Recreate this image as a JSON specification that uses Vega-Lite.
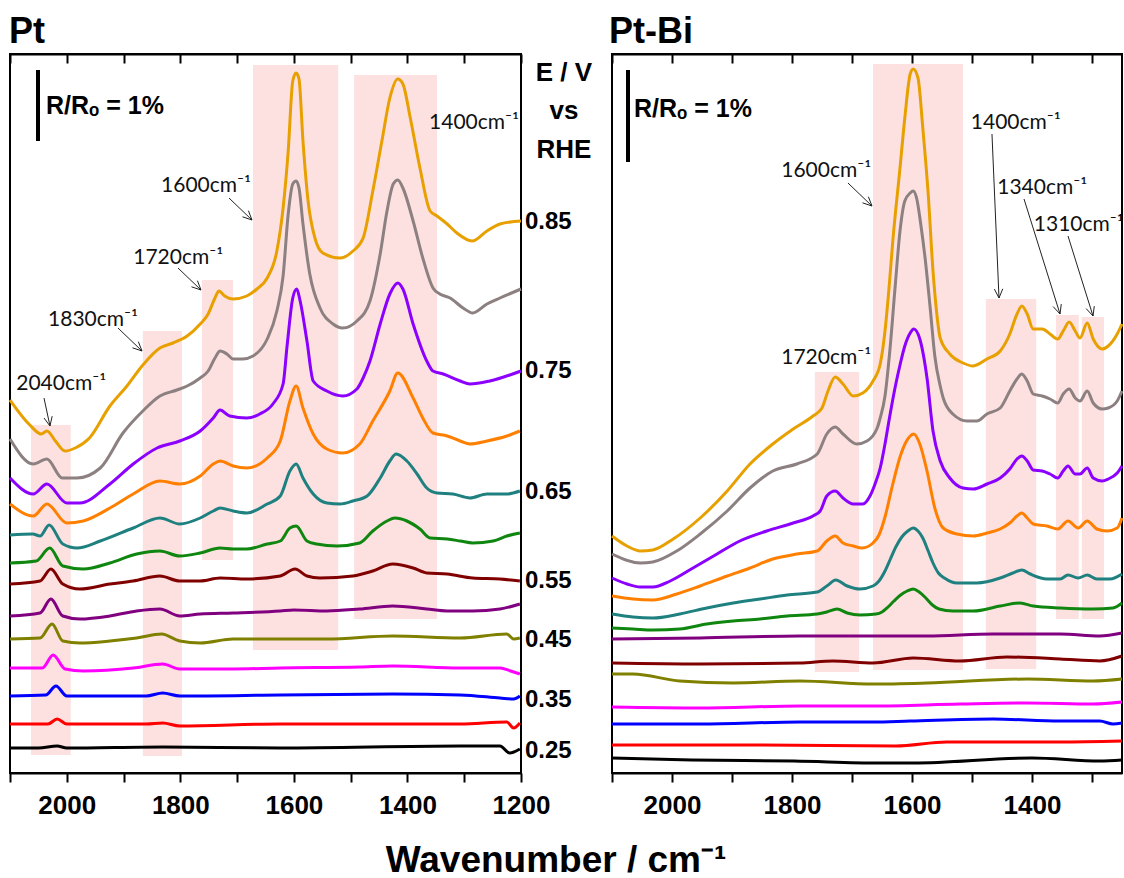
{
"$schema": "https://vega.github.io/schema/vega-lite/v6.json",
"padding": {"left": 3, "top": 13, "right": 0, "bottom": 0},
"bounds": "flush",
"spacing": 91,
"background": "white",
"config": {
  "view": {"stroke": "#000", "strokeWidth": 2},
  "axis": {"grid": false, "domainColor": "#000", "domainWidth": 2, "tickColor": "#000", "tickWidth": 2, "labelColor": "#000", "labelFont": "Liberation Sans", "labelFontWeight": "bold", "labelFontSize": 26}
},
"datasets": {
"pt": [
{"e":"0.85","x":2100,"y":373},{"e":"0.85","x":2065,"y":348},{"e":"0.85","x":2045,"y":339},{"e":"0.85","x":2035,"y":342},{"e":"0.85","x":2020,"y":332},{"e":"0.85","x":2003,"y":322},{"e":"0.85","x":1985,"y":325},{"e":"0.85","x":1960,"y":335},{"e":"0.85","x":1924,"y":367},{"e":"0.85","x":1894,"y":387},{"e":"0.85","x":1866,"y":408},{"e":"0.85","x":1836,"y":425},{"e":"0.85","x":1813,"y":430},{"e":"0.85","x":1788,"y":437},{"e":"0.85","x":1765,"y":449},{"e":"0.85","x":1751,"y":459},{"e":"0.85","x":1739,"y":475},{"e":"0.85","x":1732,"y":482},{"e":"0.85","x":1722,"y":477},{"e":"0.85","x":1707,"y":474},{"e":"0.85","x":1683,"y":477},{"e":"0.85","x":1665,"y":484},{"e":"0.85","x":1647,"y":495},{"e":"0.85","x":1630,"y":522},{"e":"0.85","x":1619,"y":565},{"e":"0.85","x":1610,"y":622},{"e":"0.85","x":1602,"y":692},{"e":"0.85","x":1596,"y":700},{"e":"0.85","x":1591,"y":694},{"e":"0.85","x":1584,"y":632},{"e":"0.85","x":1575,"y":572},{"e":"0.85","x":1563,"y":535},{"e":"0.85","x":1549,"y":520},{"e":"0.85","x":1519,"y":515},{"e":"0.85","x":1496,"y":522},{"e":"0.85","x":1478,"y":535},{"e":"0.85","x":1461,"y":582},{"e":"0.85","x":1445,"y":632},{"e":"0.85","x":1431,"y":675},{"e":"0.85","x":1417,"y":694},{"e":"0.85","x":1408,"y":689},{"e":"0.85","x":1395,"y":655},{"e":"0.85","x":1378,"y":605},{"e":"0.85","x":1360,"y":562},{"e":"0.85","x":1348,"y":557},{"e":"0.85","x":1330,"y":549},{"e":"0.85","x":1313,"y":540},{"e":"0.85","x":1286,"y":532},{"e":"0.85","x":1260,"y":542},{"e":"0.85","x":1237,"y":549},{"e":"0.85","x":1200,"y":552},
{"e":"0.80","x":2100,"y":334},{"e":"0.80","x":2059,"y":309},{"e":"0.80","x":2035,"y":314},{"e":"0.80","x":2008,"y":295},{"e":"0.80","x":1982,"y":295},{"e":"0.80","x":1941,"y":305},{"e":"0.80","x":1901,"y":340},{"e":"0.80","x":1866,"y":362},{"e":"0.80","x":1836,"y":377},{"e":"0.80","x":1806,"y":383},{"e":"0.80","x":1788,"y":387},{"e":"0.80","x":1765,"y":395},{"e":"0.80","x":1751,"y":402},{"e":"0.80","x":1739,"y":415},{"e":"0.80","x":1730,"y":422},{"e":"0.80","x":1718,"y":419},{"e":"0.80","x":1707,"y":414},{"e":"0.80","x":1690,"y":414},{"e":"0.80","x":1672,"y":417},{"e":"0.80","x":1647,"y":434},{"e":"0.80","x":1630,"y":462},{"e":"0.80","x":1619,"y":497},{"e":"0.80","x":1610,"y":559},{"e":"0.80","x":1602,"y":589},{"e":"0.80","x":1596,"y":592},{"e":"0.80","x":1591,"y":585},{"e":"0.80","x":1584,"y":549},{"e":"0.80","x":1572,"y":499},{"e":"0.80","x":1554,"y":465},{"e":"0.80","x":1531,"y":449},{"e":"0.80","x":1514,"y":445},{"e":"0.80","x":1489,"y":452},{"e":"0.80","x":1466,"y":472},{"e":"0.80","x":1448,"y":519},{"e":"0.80","x":1436,"y":562},{"e":"0.80","x":1425,"y":589},{"e":"0.80","x":1417,"y":593},{"e":"0.80","x":1408,"y":585},{"e":"0.80","x":1390,"y":552},{"e":"0.80","x":1373,"y":515},{"e":"0.80","x":1355,"y":485},{"e":"0.80","x":1343,"y":479},{"e":"0.80","x":1325,"y":475},{"e":"0.80","x":1302,"y":465},{"e":"0.80","x":1285,"y":460},{"e":"0.80","x":1260,"y":469},{"e":"0.80","x":1237,"y":475},{"e":"0.80","x":1200,"y":484},
{"e":"0.75","x":2100,"y":295},{"e":"0.75","x":2059,"y":279},{"e":"0.75","x":2035,"y":289},{"e":"0.75","x":2000,"y":270},{"e":"0.75","x":1977,"y":270},{"e":"0.75","x":1924,"y":289},{"e":"0.75","x":1883,"y":309},{"e":"0.75","x":1841,"y":325},{"e":"0.75","x":1801,"y":332},{"e":"0.75","x":1765,"y":342},{"e":"0.75","x":1742,"y":355},{"e":"0.75","x":1730,"y":363},{"e":"0.75","x":1713,"y":357},{"e":"0.75","x":1683,"y":355},{"e":"0.75","x":1660,"y":359},{"e":"0.75","x":1637,"y":369},{"e":"0.75","x":1619,"y":389},{"e":"0.75","x":1612,"y":427},{"e":"0.75","x":1602,"y":475},{"e":"0.75","x":1595,"y":484},{"e":"0.75","x":1589,"y":472},{"e":"0.75","x":1577,"y":432},{"e":"0.75","x":1566,"y":392},{"e":"0.75","x":1542,"y":382},{"e":"0.75","x":1514,"y":377},{"e":"0.75","x":1489,"y":384},{"e":"0.75","x":1478,"y":395},{"e":"0.75","x":1466,"y":412},{"e":"0.75","x":1448,"y":449},{"e":"0.75","x":1431,"y":479},{"e":"0.75","x":1417,"y":490},{"e":"0.75","x":1408,"y":484},{"e":"0.75","x":1390,"y":449},{"e":"0.75","x":1366,"y":412},{"e":"0.75","x":1355,"y":402},{"e":"0.75","x":1337,"y":399},{"e":"0.75","x":1307,"y":392},{"e":"0.75","x":1290,"y":389},{"e":"0.75","x":1255,"y":392},{"e":"0.75","x":1200,"y":402},
{"e":"0.70","x":2100,"y":269},{"e":"0.70","x":2059,"y":257},{"e":"0.70","x":2035,"y":269},{"e":"0.70","x":2000,"y":250},{"e":"0.70","x":1971,"y":252},{"e":"0.70","x":1924,"y":265},{"e":"0.70","x":1883,"y":279},{"e":"0.70","x":1836,"y":292},{"e":"0.70","x":1801,"y":289},{"e":"0.70","x":1765,"y":297},{"e":"0.70","x":1742,"y":309},{"e":"0.70","x":1730,"y":312},{"e":"0.70","x":1707,"y":307},{"e":"0.70","x":1683,"y":305},{"e":"0.70","x":1647,"y":315},{"e":"0.70","x":1624,"y":332},{"e":"0.70","x":1607,"y":372},{"e":"0.70","x":1596,"y":387},{"e":"0.70","x":1584,"y":365},{"e":"0.70","x":1566,"y":339},{"e":"0.70","x":1542,"y":324},{"e":"0.70","x":1514,"y":320},{"e":"0.70","x":1484,"y":329},{"e":"0.70","x":1461,"y":352},{"e":"0.70","x":1431,"y":382},{"e":"0.70","x":1417,"y":400},{"e":"0.70","x":1390,"y":375},{"e":"0.70","x":1373,"y":355},{"e":"0.70","x":1355,"y":340},{"e":"0.70","x":1330,"y":337},{"e":"0.70","x":1307,"y":332},{"e":"0.70","x":1290,"y":329},{"e":"0.70","x":1260,"y":332},{"e":"0.70","x":1225,"y":337},{"e":"0.70","x":1202,"y":342},
{"e":"0.65","x":2100,"y":238},{"e":"0.65","x":2060,"y":239},{"e":"0.65","x":2047,"y":237},{"e":"0.65","x":2031,"y":248},{"e":"0.65","x":2007,"y":229},{"e":"0.65","x":1982,"y":225},{"e":"0.65","x":1941,"y":232},{"e":"0.65","x":1883,"y":245},{"e":"0.65","x":1836,"y":255},{"e":"0.65","x":1801,"y":249},{"e":"0.65","x":1765,"y":255},{"e":"0.65","x":1742,"y":262},{"e":"0.65","x":1730,"y":265},{"e":"0.65","x":1707,"y":262},{"e":"0.65","x":1683,"y":260},{"e":"0.65","x":1647,"y":269},{"e":"0.65","x":1624,"y":277},{"e":"0.65","x":1607,"y":302},{"e":"0.65","x":1596,"y":309},{"e":"0.65","x":1584,"y":295},{"e":"0.65","x":1566,"y":279},{"e":"0.65","x":1542,"y":270},{"e":"0.65","x":1519,"y":269},{"e":"0.65","x":1496,"y":272},{"e":"0.65","x":1471,"y":277},{"e":"0.65","x":1448,"y":295},{"e":"0.65","x":1431,"y":312},{"e":"0.65","x":1420,"y":319},{"e":"0.65","x":1401,"y":312},{"e":"0.65","x":1383,"y":299},{"e":"0.65","x":1366,"y":285},{"e":"0.65","x":1348,"y":280},{"e":"0.65","x":1320,"y":279},{"e":"0.65","x":1290,"y":275},{"e":"0.65","x":1260,"y":279},{"e":"0.65","x":1225,"y":279},{"e":"0.65","x":1202,"y":282},
{"e":"0.60","x":2100,"y":210},{"e":"0.60","x":2054,"y":212},{"e":"0.60","x":2030,"y":225},{"e":"0.60","x":2007,"y":207},{"e":"0.60","x":1971,"y":204},{"e":"0.60","x":1924,"y":210},{"e":"0.60","x":1877,"y":219},{"e":"0.60","x":1836,"y":222},{"e":"0.60","x":1801,"y":217},{"e":"0.60","x":1765,"y":220},{"e":"0.60","x":1730,"y":225},{"e":"0.60","x":1707,"y":224},{"e":"0.60","x":1683,"y":224},{"e":"0.60","x":1647,"y":229},{"e":"0.60","x":1624,"y":232},{"e":"0.60","x":1607,"y":245},{"e":"0.60","x":1596,"y":247},{"e":"0.60","x":1577,"y":232},{"e":"0.60","x":1560,"y":229},{"e":"0.60","x":1524,"y":227},{"e":"0.60","x":1484,"y":230},{"e":"0.60","x":1461,"y":242},{"e":"0.60","x":1436,"y":252},{"e":"0.60","x":1422,"y":255},{"e":"0.60","x":1401,"y":252},{"e":"0.60","x":1378,"y":244},{"e":"0.60","x":1360,"y":235},{"e":"0.60","x":1330,"y":234},{"e":"0.60","x":1307,"y":232},{"e":"0.60","x":1285,"y":230},{"e":"0.60","x":1249,"y":232},{"e":"0.60","x":1225,"y":237},{"e":"0.60","x":1202,"y":240},
{"e":"0.55","x":2100,"y":189},{"e":"0.55","x":2047,"y":192},{"e":"0.55","x":2028,"y":204},{"e":"0.55","x":2007,"y":189},{"e":"0.55","x":1977,"y":184},{"e":"0.55","x":1924,"y":189},{"e":"0.55","x":1883,"y":192},{"e":"0.55","x":1836,"y":197},{"e":"0.55","x":1801,"y":192},{"e":"0.55","x":1765,"y":192},{"e":"0.55","x":1730,"y":195},{"e":"0.55","x":1683,"y":194},{"e":"0.55","x":1624,"y":197},{"e":"0.55","x":1598,"y":204},{"e":"0.55","x":1577,"y":197},{"e":"0.55","x":1554,"y":195},{"e":"0.55","x":1496,"y":197},{"e":"0.55","x":1461,"y":202},{"e":"0.55","x":1426,"y":209},{"e":"0.55","x":1390,"y":205},{"e":"0.55","x":1366,"y":200},{"e":"0.55","x":1330,"y":199},{"e":"0.55","x":1285,"y":195},{"e":"0.55","x":1237,"y":194},{"e":"0.55","x":1202,"y":192},
{"e":"0.50","x":2100,"y":157},{"e":"0.50","x":2047,"y":160},{"e":"0.50","x":2028,"y":174},{"e":"0.50","x":2007,"y":157},{"e":"0.50","x":1977,"y":154},{"e":"0.50","x":1924,"y":157},{"e":"0.50","x":1877,"y":162},{"e":"0.50","x":1836,"y":164},{"e":"0.50","x":1801,"y":157},{"e":"0.50","x":1765,"y":159},{"e":"0.50","x":1707,"y":160},{"e":"0.50","x":1624,"y":162},{"e":"0.50","x":1600,"y":163},{"e":"0.50","x":1542,"y":162},{"e":"0.50","x":1484,"y":164},{"e":"0.50","x":1426,"y":167},{"e":"0.50","x":1366,"y":164},{"e":"0.50","x":1330,"y":162},{"e":"0.50","x":1285,"y":162},{"e":"0.50","x":1237,"y":164},{"e":"0.50","x":1202,"y":169},
{"e":"0.45","x":2100,"y":134},{"e":"0.45","x":2047,"y":135},{"e":"0.45","x":2026,"y":149},{"e":"0.45","x":2007,"y":132},{"e":"0.45","x":1977,"y":130},{"e":"0.45","x":1924,"y":132},{"e":"0.45","x":1877,"y":135},{"e":"0.45","x":1833,"y":139},{"e":"0.45","x":1801,"y":132},{"e":"0.45","x":1765,"y":130},{"e":"0.45","x":1707,"y":134},{"e":"0.45","x":1624,"y":134},{"e":"0.45","x":1542,"y":134},{"e":"0.45","x":1426,"y":137},{"e":"0.45","x":1307,"y":135},{"e":"0.45","x":1225,"y":139},{"e":"0.45","x":1213,"y":134},{"e":"0.45","x":1202,"y":135},
{"e":"0.40","x":2100,"y":105},{"e":"0.40","x":2043,"y":105},{"e":"0.40","x":2024,"y":118},{"e":"0.40","x":2003,"y":104},{"e":"0.40","x":1971,"y":102},{"e":"0.40","x":1883,"y":105},{"e":"0.40","x":1831,"y":109},{"e":"0.40","x":1801,"y":104},{"e":"0.40","x":1707,"y":104},{"e":"0.40","x":1624,"y":105},{"e":"0.40","x":1484,"y":106},{"e":"0.40","x":1426,"y":107},{"e":"0.40","x":1307,"y":105},{"e":"0.40","x":1237,"y":105},{"e":"0.40","x":1218,"y":102},{"e":"0.40","x":1202,"y":99},
{"e":"0.35","x":2100,"y":77},{"e":"0.35","x":2037,"y":78},{"e":"0.35","x":2019,"y":87},{"e":"0.35","x":2000,"y":77},{"e":"0.35","x":1941,"y":77},{"e":"0.35","x":1860,"y":77},{"e":"0.35","x":1831,"y":80},{"e":"0.35","x":1801,"y":77},{"e":"0.35","x":1624,"y":78},{"e":"0.35","x":1426,"y":79},{"e":"0.35","x":1307,"y":78},{"e":"0.35","x":1237,"y":75},{"e":"0.35","x":1213,"y":74},{"e":"0.35","x":1202,"y":77},
{"e":"0.30","x":2100,"y":49},{"e":"0.30","x":2033,"y":49},{"e":"0.30","x":2017,"y":54},{"e":"0.30","x":2000,"y":49},{"e":"0.30","x":1860,"y":49},{"e":"0.30","x":1831,"y":50},{"e":"0.30","x":1801,"y":47},{"e":"0.30","x":1624,"y":49},{"e":"0.30","x":1307,"y":49},{"e":"0.30","x":1225,"y":51},{"e":"0.30","x":1213,"y":45},{"e":"0.30","x":1202,"y":50},
{"e":"0.25","x":2100,"y":25},{"e":"0.25","x":2050,"y":25},{"e":"0.25","x":2017,"y":27},{"e":"0.25","x":2000,"y":25},{"e":"0.25","x":1831,"y":26},{"e":"0.25","x":1624,"y":25},{"e":"0.25","x":1307,"y":27},{"e":"0.25","x":1237,"y":27},{"e":"0.25","x":1220,"y":20},{"e":"0.25","x":1202,"y":24}
],
"bi": [
{"e":"0.85","x":2100,"y":237},{"e":"0.85","x":2075,"y":227},{"e":"0.85","x":2053,"y":222},{"e":"0.85","x":2032,"y":223},{"e":"0.85","x":1998,"y":234},{"e":"0.85","x":1953,"y":255},{"e":"0.85","x":1908,"y":282},{"e":"0.85","x":1870,"y":309},{"e":"0.85","x":1832,"y":329},{"e":"0.85","x":1798,"y":344},{"e":"0.85","x":1765,"y":357},{"e":"0.85","x":1750,"y":365},{"e":"0.85","x":1740,"y":382},{"e":"0.85","x":1728,"y":396},{"e":"0.85","x":1715,"y":389},{"e":"0.85","x":1698,"y":377},{"e":"0.85","x":1682,"y":380},{"e":"0.85","x":1665,"y":392},{"e":"0.85","x":1653,"y":409},{"e":"0.85","x":1645,"y":442},{"e":"0.85","x":1638,"y":487},{"e":"0.85","x":1632,"y":532},{"e":"0.85","x":1620,"y":605},{"e":"0.85","x":1612,"y":655},{"e":"0.85","x":1603,"y":699},{"e":"0.85","x":1598,"y":704},{"e":"0.85","x":1590,"y":695},{"e":"0.85","x":1582,"y":645},{"e":"0.85","x":1573,"y":579},{"e":"0.85","x":1565,"y":502},{"e":"0.85","x":1560,"y":467},{"e":"0.85","x":1553,"y":435},{"e":"0.85","x":1537,"y":419},{"e":"0.85","x":1515,"y":410},{"e":"0.85","x":1498,"y":407},{"e":"0.85","x":1475,"y":414},{"e":"0.85","x":1453,"y":422},{"e":"0.85","x":1437,"y":439},{"e":"0.85","x":1425,"y":459},{"e":"0.85","x":1417,"y":467},{"e":"0.85","x":1408,"y":459},{"e":"0.85","x":1398,"y":444},{"e":"0.85","x":1383,"y":444},{"e":"0.85","x":1370,"y":439},{"e":"0.85","x":1357,"y":434},{"e":"0.85","x":1348,"y":442},{"e":"0.85","x":1338,"y":451},{"e":"0.85","x":1328,"y":442},{"e":"0.85","x":1320,"y":435},{"e":"0.85","x":1308,"y":450},{"e":"0.85","x":1298,"y":434},{"e":"0.85","x":1283,"y":424},{"e":"0.85","x":1273,"y":427},{"e":"0.85","x":1258,"y":439},{"e":"0.85","x":1250,"y":449},
{"e":"0.80","x":2100,"y":219},{"e":"0.80","x":2053,"y":210},{"e":"0.80","x":2032,"y":211},{"e":"0.80","x":1992,"y":222},{"e":"0.80","x":1953,"y":239},{"e":"0.80","x":1908,"y":262},{"e":"0.80","x":1870,"y":285},{"e":"0.80","x":1832,"y":302},{"e":"0.80","x":1792,"y":309},{"e":"0.80","x":1758,"y":319},{"e":"0.80","x":1742,"y":339},{"e":"0.80","x":1728,"y":346},{"e":"0.80","x":1715,"y":339},{"e":"0.80","x":1692,"y":329},{"e":"0.80","x":1675,"y":332},{"e":"0.80","x":1658,"y":345},{"e":"0.80","x":1653,"y":355},{"e":"0.80","x":1645,"y":377},{"e":"0.80","x":1637,"y":422},{"e":"0.80","x":1628,"y":487},{"e":"0.80","x":1620,"y":542},{"e":"0.80","x":1612,"y":572},{"e":"0.80","x":1603,"y":580},{"e":"0.80","x":1598,"y":582},{"e":"0.80","x":1592,"y":574},{"e":"0.80","x":1585,"y":547},{"e":"0.80","x":1578,"y":514},{"e":"0.80","x":1570,"y":467},{"e":"0.80","x":1562,"y":417},{"e":"0.80","x":1553,"y":387},{"e":"0.80","x":1548,"y":375},{"e":"0.80","x":1532,"y":359},{"e":"0.80","x":1508,"y":352},{"e":"0.80","x":1492,"y":352},{"e":"0.80","x":1475,"y":359},{"e":"0.80","x":1453,"y":365},{"e":"0.80","x":1437,"y":382},{"e":"0.80","x":1425,"y":394},{"e":"0.80","x":1417,"y":399},{"e":"0.80","x":1408,"y":392},{"e":"0.80","x":1398,"y":379},{"e":"0.80","x":1383,"y":377},{"e":"0.80","x":1370,"y":374},{"e":"0.80","x":1357,"y":370},{"e":"0.80","x":1348,"y":379},{"e":"0.80","x":1338,"y":384},{"e":"0.80","x":1328,"y":375},{"e":"0.80","x":1320,"y":372},{"e":"0.80","x":1308,"y":382},{"e":"0.80","x":1298,"y":370},{"e":"0.80","x":1283,"y":364},{"e":"0.80","x":1273,"y":365},{"e":"0.80","x":1258,"y":372},{"e":"0.80","x":1250,"y":382},
{"e":"0.75","x":2100,"y":195},{"e":"0.75","x":2075,"y":189},{"e":"0.75","x":2053,"y":186},{"e":"0.75","x":2032,"y":186},{"e":"0.75","x":2003,"y":192},{"e":"0.75","x":1965,"y":205},{"e":"0.75","x":1925,"y":219},{"e":"0.75","x":1887,"y":232},{"e":"0.75","x":1842,"y":242},{"e":"0.75","x":1798,"y":250},{"e":"0.75","x":1765,"y":257},{"e":"0.75","x":1753,"y":262},{"e":"0.75","x":1742,"y":277},{"e":"0.75","x":1728,"y":282},{"e":"0.75","x":1715,"y":275},{"e":"0.75","x":1698,"y":269},{"e":"0.75","x":1682,"y":269},{"e":"0.75","x":1670,"y":277},{"e":"0.75","x":1661,"y":290},{"e":"0.75","x":1653,"y":305},{"e":"0.75","x":1645,"y":329},{"e":"0.75","x":1637,"y":357},{"e":"0.75","x":1628,"y":386},{"e":"0.75","x":1620,"y":408},{"e":"0.75","x":1612,"y":427},{"e":"0.75","x":1603,"y":440},{"e":"0.75","x":1597,"y":444},{"e":"0.75","x":1587,"y":434},{"e":"0.75","x":1575,"y":395},{"e":"0.75","x":1565,"y":342},{"e":"0.75","x":1553,"y":312},{"e":"0.75","x":1537,"y":295},{"e":"0.75","x":1515,"y":285},{"e":"0.75","x":1498,"y":284},{"e":"0.75","x":1475,"y":289},{"e":"0.75","x":1453,"y":295},{"e":"0.75","x":1437,"y":304},{"e":"0.75","x":1425,"y":314},{"e":"0.75","x":1417,"y":317},{"e":"0.75","x":1408,"y":312},{"e":"0.75","x":1398,"y":303},{"e":"0.75","x":1383,"y":302},{"e":"0.75","x":1370,"y":299},{"e":"0.75","x":1357,"y":295},{"e":"0.75","x":1348,"y":302},{"e":"0.75","x":1340,"y":307},{"e":"0.75","x":1328,"y":299},{"e":"0.75","x":1320,"y":299},{"e":"0.75","x":1308,"y":305},{"e":"0.75","x":1298,"y":295},{"e":"0.75","x":1283,"y":292},{"e":"0.75","x":1273,"y":294},{"e":"0.75","x":1258,"y":300},{"e":"0.75","x":1250,"y":307},
{"e":"0.70","x":2100,"y":177},{"e":"0.70","x":2065,"y":174},{"e":"0.70","x":2032,"y":173},{"e":"0.70","x":1992,"y":179},{"e":"0.70","x":1953,"y":187},{"e":"0.70","x":1908,"y":197},{"e":"0.70","x":1870,"y":205},{"e":"0.70","x":1832,"y":214},{"e":"0.70","x":1792,"y":219},{"e":"0.70","x":1758,"y":222},{"e":"0.70","x":1742,"y":232},{"e":"0.70","x":1728,"y":237},{"e":"0.70","x":1715,"y":230},{"e":"0.70","x":1698,"y":227},{"e":"0.70","x":1683,"y":225},{"e":"0.70","x":1665,"y":230},{"e":"0.70","x":1655,"y":238},{"e":"0.70","x":1645,"y":256},{"e":"0.70","x":1632,"y":289},{"e":"0.70","x":1620,"y":316},{"e":"0.70","x":1610,"y":331},{"e":"0.70","x":1603,"y":337},{"e":"0.70","x":1597,"y":339},{"e":"0.70","x":1587,"y":329},{"e":"0.70","x":1575,"y":302},{"e":"0.70","x":1562,"y":265},{"e":"0.70","x":1548,"y":245},{"e":"0.70","x":1525,"y":239},{"e":"0.70","x":1498,"y":237},{"e":"0.70","x":1475,"y":240},{"e":"0.70","x":1453,"y":244},{"e":"0.70","x":1437,"y":250},{"e":"0.70","x":1425,"y":257},{"e":"0.70","x":1417,"y":260},{"e":"0.70","x":1408,"y":255},{"e":"0.70","x":1398,"y":249},{"e":"0.70","x":1375,"y":247},{"e":"0.70","x":1357,"y":244},{"e":"0.70","x":1340,"y":252},{"e":"0.70","x":1323,"y":245},{"e":"0.70","x":1308,"y":252},{"e":"0.70","x":1292,"y":244},{"e":"0.70","x":1275,"y":242},{"e":"0.70","x":1258,"y":245},{"e":"0.70","x":1250,"y":255},
{"e":"0.65","x":2100,"y":159},{"e":"0.65","x":2065,"y":156},{"e":"0.65","x":2032,"y":155},{"e":"0.65","x":1987,"y":159},{"e":"0.65","x":1942,"y":165},{"e":"0.65","x":1898,"y":170},{"e":"0.65","x":1853,"y":174},{"e":"0.65","x":1808,"y":178},{"e":"0.65","x":1758,"y":181},{"e":"0.65","x":1742,"y":187},{"e":"0.65","x":1727,"y":193},{"e":"0.65","x":1708,"y":187},{"e":"0.65","x":1687,"y":184},{"e":"0.65","x":1665,"y":187},{"e":"0.65","x":1655,"y":192},{"e":"0.65","x":1645,"y":202},{"e":"0.65","x":1636,"y":214},{"e":"0.65","x":1627,"y":226},{"e":"0.65","x":1617,"y":236},{"e":"0.65","x":1607,"y":242},{"e":"0.65","x":1598,"y":245},{"e":"0.65","x":1590,"y":242},{"e":"0.65","x":1582,"y":235},{"e":"0.65","x":1573,"y":222},{"e":"0.65","x":1565,"y":210},{"e":"0.65","x":1556,"y":200},{"e":"0.65","x":1546,"y":195},{"e":"0.65","x":1525,"y":190},{"e":"0.65","x":1492,"y":190},{"e":"0.65","x":1453,"y":195},{"e":"0.65","x":1432,"y":200},{"e":"0.65","x":1417,"y":203},{"e":"0.65","x":1403,"y":199},{"e":"0.65","x":1375,"y":194},{"e":"0.65","x":1353,"y":194},{"e":"0.65","x":1340,"y":198},{"e":"0.65","x":1323,"y":195},{"e":"0.65","x":1308,"y":198},{"e":"0.65","x":1292,"y":194},{"e":"0.65","x":1270,"y":194},{"e":"0.65","x":1250,"y":199},
{"e":"0.60","x":2100,"y":145},{"e":"0.60","x":2065,"y":144},{"e":"0.60","x":2032,"y":143},{"e":"0.60","x":1987,"y":144},{"e":"0.60","x":1942,"y":149},{"e":"0.60","x":1898,"y":152},{"e":"0.60","x":1853,"y":154},{"e":"0.60","x":1808,"y":157},{"e":"0.60","x":1758,"y":159},{"e":"0.60","x":1742,"y":161},{"e":"0.60","x":1725,"y":164},{"e":"0.60","x":1708,"y":160},{"e":"0.60","x":1687,"y":158},{"e":"0.60","x":1660,"y":159},{"e":"0.60","x":1650,"y":161},{"e":"0.60","x":1640,"y":166},{"e":"0.60","x":1630,"y":172},{"e":"0.60","x":1619,"y":178},{"e":"0.60","x":1608,"y":182},{"e":"0.60","x":1598,"y":184},{"e":"0.60","x":1588,"y":181},{"e":"0.60","x":1577,"y":175},{"e":"0.60","x":1566,"y":168},{"e":"0.60","x":1555,"y":164},{"e":"0.60","x":1532,"y":162},{"e":"0.60","x":1498,"y":162},{"e":"0.60","x":1453,"y":167},{"e":"0.60","x":1420,"y":170},{"e":"0.60","x":1398,"y":167},{"e":"0.60","x":1353,"y":165},{"e":"0.60","x":1298,"y":164},{"e":"0.60","x":1265,"y":165},{"e":"0.60","x":1250,"y":170},
{"e":"0.55","x":2100,"y":110},{"e":"0.55","x":1953,"y":109},{"e":"0.55","x":1787,"y":110},{"e":"0.55","x":1732,"y":112},{"e":"0.55","x":1665,"y":110},{"e":"0.55","x":1598,"y":115},{"e":"0.55","x":1520,"y":112},{"e":"0.55","x":1442,"y":116},{"e":"0.55","x":1353,"y":114},{"e":"0.55","x":1287,"y":112},{"e":"0.55","x":1250,"y":117},
{"e":"0.50","x":2100,"y":134},{"e":"0.50","x":1953,"y":135},{"e":"0.50","x":1787,"y":137},{"e":"0.50","x":1665,"y":137},{"e":"0.50","x":1575,"y":137},{"e":"0.50","x":1465,"y":139},{"e":"0.50","x":1353,"y":139},{"e":"0.50","x":1287,"y":137},{"e":"0.50","x":1250,"y":140},
{"e":"0.45","x":2100,"y":99},{"e":"0.45","x":2065,"y":99},{"e":"0.45","x":1987,"y":92},{"e":"0.45","x":1898,"y":90},{"e":"0.45","x":1787,"y":92},{"e":"0.45","x":1665,"y":89},{"e":"0.45","x":1575,"y":90},{"e":"0.45","x":1408,"y":94},{"e":"0.45","x":1298,"y":92},{"e":"0.45","x":1250,"y":94},
{"e":"0.40","x":2100,"y":66},{"e":"0.40","x":1953,"y":65},{"e":"0.40","x":1787,"y":67},{"e":"0.40","x":1665,"y":67},{"e":"0.40","x":1520,"y":69},{"e":"0.40","x":1408,"y":70},{"e":"0.40","x":1298,"y":69},{"e":"0.40","x":1250,"y":71},
{"e":"0.35","x":2100,"y":49},{"e":"0.35","x":1953,"y":49},{"e":"0.35","x":1787,"y":51},{"e":"0.35","x":1665,"y":51},{"e":"0.35","x":1603,"y":52},{"e":"0.35","x":1465,"y":54},{"e":"0.35","x":1353,"y":52},{"e":"0.35","x":1287,"y":52},{"e":"0.35","x":1265,"y":49},{"e":"0.35","x":1250,"y":50},
{"e":"0.30","x":2100,"y":28},{"e":"0.30","x":1853,"y":28},{"e":"0.30","x":1627,"y":27},{"e":"0.30","x":1542,"y":31},{"e":"0.30","x":1353,"y":31},{"e":"0.30","x":1250,"y":32},
{"e":"0.25","x":2100,"y":15},{"e":"0.25","x":1967,"y":13},{"e":"0.25","x":1797,"y":12},{"e":"0.25","x":1655,"y":10},{"e":"0.25","x":1598,"y":10},{"e":"0.25","x":1400,"y":15},{"e":"0.25","x":1287,"y":12},{"e":"0.25","x":1250,"y":13}
],
"rpt": [
{"x":2063,"x2":1993,"y":348,"y2":18},{"x":1866,"x2":1797,"y":442,"y2":17},{"x":1762,"x2":1707,"y":493,"y2":213},{"x":1672,"x2":1522,"y":708,"y2":123},{"x":1494,"x2":1348,"y":698,"y2":154}
],
"rbi": [
{"x":1762,"x2":1688,"y":401,"y2":101},{"x":1665,"x2":1515,"y":709,"y2":103},{"x":1477,"x2":1393,"y":474,"y2":104},{"x":1360,"x2":1322,"y":458,"y2":154},{"x":1317,"x2":1280,"y":456,"y2":154}
],
"apt": [
{"x":1714.3,"y":575,"x2":1673.8,"y2":553},{"x":1673.8,"y":553,"x2":1680.1,"y2":562.3},{"x":1673.8,"y":553,"x2":1690.5,"y2":556.2},
{"x":1804.1,"y":505,"x2":1763.6,"y2":483},{"x":1763.6,"y":483,"x2":1769.9,"y2":492.3},{"x":1763.6,"y":483,"x2":1780.3,"y2":486.2},
{"x":1909.8,"y":445,"x2":1867.5,"y2":422},{"x":1867.5,"y":422,"x2":1873.9,"y2":431.3},{"x":1867.5,"y":422,"x2":1884.3,"y2":425.2},
{"x":2040.1,"y":375,"x2":2029.6,"y2":347},{"x":2029.6,"y":347,"x2":2025.7,"y2":356.8},{"x":2029.6,"y":347,"x2":2040.1,"y2":355}
],
"abi": [
{"x":1706.7,"y":590,"x2":1666.7,"y2":567},{"x":1666.7,"y":567,"x2":1672.7,"y2":576.3},{"x":1666.7,"y":567,"x2":1682.5,"y2":570.2},
{"x":1466.7,"y":639,"x2":1455,"y2":475},{"x":1455,"y":475,"x2":1448.7,"y2":484.2},{"x":1455,"y":475,"x2":1462.7,"y2":483.9},
{"x":1413.3,"y":574,"x2":1353.3,"y2":459},{"x":1353.3,"y":459,"x2":1351.2,"y2":468.9},{"x":1353.3,"y":459,"x2":1364.7,"y2":466.4},
{"x":1340,"y":537,"x2":1298.3,"y2":457},{"x":1298.3,"y":457,"x2":1296.2,"y2":466.9},{"x":1298.3,"y":457,"x2":1309.7,"y2":464.4}
],
"tpt": [
{"x":2089,"y":383,"t":"2040cm\u207b\u00b9"},{"x":2033,"y":447,"t":"1830cm\u207b\u00b9"},{"x":1883,"y":509,"t":"1720cm\u207b\u00b9"},{"x":1834,"y":581,"t":"1600cm\u207b\u00b9"},{"x":1362,"y":644,"t":"1400cm\u207b\u00b9"}
],
"tbi": [
{"x":1818,"y":596,"t":"1600cm\u207b\u00b9"},{"x":1502,"y":644,"t":"1400cm\u207b\u00b9"},{"x":1458,"y":579,"t":"1340cm\u207b\u00b9"},{"x":1397,"y":542,"t":"1310cm\u207b\u00b9"},{"x":1818,"y":409,"t":"1720cm\u207b\u00b9"}
],
"spt": [{"x":2050.7,"y":703,"y2":632}],
"sbi": [{"x":2073.3,"y":703,"y2":611}],
"lpt": [{"x":2036.6,"y":659,"t":"R/R\u2092 = 1%"}],
"lbi": [{"x":2063.3,"y":656,"t":"R/R\u2092 = 1%"}],
"hpt": [{"x":2101.8,"y":730,"t":"Pt"}],
"hbi": [{"x":2105,"y":730,"t":"Pt-Bi"}],
"ev": [{"x":1124.3,"y":692,"t":"E / V"},{"x":1124.3,"y":654,"t":"vs"},{"x":1124.3,"y":615,"t":"RHE"}],
"vals": [{"x":1200,"y":551,"t":"0.85"},{"x":1200,"y":402,"t":"0.75"},{"x":1200,"y":281,"t":"0.65"},{"x":1200,"y":192,"t":"0.55"},{"x":1200,"y":133,"t":"0.45"},{"x":1200,"y":73,"t":"0.35"},{"x":1200,"y":22,"t":"0.25"}],
"xt": [{"x":1138.4,"y":-99,"t":"Wavenumber / cm\u207b\u00b9"}]
},
"hconcat": [
{
  "width": 511, "height": 719,
  "encoding": {
    "x": {"field": "x", "type": "quantitative", "scale": {"domain": [1200, 2100], "reverse": true, "nice": false, "zero": false}, "axis": null},
    "y": {"field": "y", "type": "quantitative", "scale": {"domain": [0, 719], "nice": false, "zero": false}, "axis": null}
  },
  "resolve": {"axis": {"x": "independent"}},
  "layer": [
    {"data": {"name": "rpt"}, "mark": {"type": "rect", "color": "#fde1e1"},
     "encoding": {
       "x": {"field": "x", "type": "quantitative", "scale": {"domain": [1200, 2100], "reverse": true, "nice": false, "zero": false},
             "axis": {"orient": "top", "values": [2100,2000,1900,1800,1700,1600,1500,1400,1300,1200], "labels": false, "tickSize": -9, "title": null}},
       "x2": {"field": "x2"}, "y2": {"field": "y2"}}},
    {"data": {"name": "pt"}, "mark": {"type": "line", "strokeWidth": 3, "interpolate": "monotone"},
     "encoding": {
       "x": {"field": "x", "type": "quantitative", "scale": {"domain": [1200, 2100], "reverse": true, "nice": false, "zero": false},
             "axis": {"orient": "bottom", "values": [2100,2000,1900,1800,1700,1600,1500,1400,1300,1200], "format": "d", "labelExpr": "datum.value % 200 == 0 ? datum.label : ''", "tickSize": 9, "labelPadding": 10, "labelFlush": false, "labelOverlap": false, "labelBound": false, "title": null}},
       "color": {"field": "e", "type": "nominal", "legend": null,
                 "scale": {"domain": ["0.25","0.30","0.35","0.40","0.45","0.50","0.55","0.60","0.65","0.70","0.75","0.80","0.85"],
                           "range": ["#000000","#FF0000","#0000FF","#FF00FF","#808000","#800080","#800000","#0F860F","#1F8080","#FF8000","#8B00FF","#8C8080","#E8A000"]}},
       "order": {"field": "x", "sort": "descending"}}},
    {"data": {"name": "apt"}, "mark": {"type": "rule", "strokeWidth": 1, "color": "#222"},
     "encoding": {"x2": {"field": "x2"}, "y2": {"field": "y2"}}},
    {"data": {"name": "spt"}, "mark": {"type": "rule", "strokeWidth": 4, "color": "#000"},
     "encoding": {"y2": {"field": "y2"}}},
    {"data": {"name": "tpt"}, "mark": {"type": "text", "align": "left", "baseline": "alphabetic", "font": "Lato", "fontSize": 21, "color": "#111"},
     "encoding": {"text": {"field": "t"}}},
    {"data": {"name": "lpt"}, "mark": {"type": "text", "align": "left", "baseline": "alphabetic", "font": "Liberation Sans", "fontWeight": "bold", "fontSize": 25, "color": "#000"},
     "encoding": {"text": {"field": "t"}}},
    {"data": {"name": "hpt"}, "mark": {"type": "text", "align": "left", "baseline": "alphabetic", "font": "Liberation Sans", "fontWeight": "bold", "fontSize": 36, "color": "#000"},
     "encoding": {"text": {"field": "t"}}},
    {"data": {"name": "ev"}, "mark": {"type": "text", "align": "center", "baseline": "alphabetic", "font": "Liberation Sans", "fontWeight": "bold", "fontSize": 26, "color": "#000"},
     "encoding": {"text": {"field": "t"}}},
    {"data": {"name": "vals"}, "mark": {"type": "text", "align": "left", "baseline": "middle", "dx": 4, "font": "Liberation Sans", "fontWeight": "bold", "fontSize": 24, "color": "#000"},
     "encoding": {"text": {"field": "t"}}},
    {"data": {"name": "xt"}, "mark": {"type": "text", "align": "center", "baseline": "alphabetic", "font": "Liberation Sans", "fontWeight": "bold", "fontSize": 37, "color": "#000"},
     "encoding": {"text": {"field": "t"}}}
  ]
},
{
  "width": 510, "height": 719,
  "encoding": {
    "x": {"field": "x", "type": "quantitative", "scale": {"domain": [1250, 2100], "reverse": true, "nice": false, "zero": false}, "axis": null},
    "y": {"field": "y", "type": "quantitative", "scale": {"domain": [0, 719], "nice": false, "zero": false}, "axis": null}
  },
  "resolve": {"axis": {"x": "independent"}},
  "layer": [
    {"data": {"name": "rbi"}, "mark": {"type": "rect", "color": "#fde1e1"},
     "encoding": {
       "x": {"field": "x", "type": "quantitative", "scale": {"domain": [1250, 2100], "reverse": true, "nice": false, "zero": false},
             "axis": {"orient": "top", "values": [2100,2000,1900,1800,1700,1600,1500,1400,1300], "labels": false, "tickSize": -9, "title": null}},
       "x2": {"field": "x2"}, "y2": {"field": "y2"}}},
    {"data": {"name": "bi"}, "mark": {"type": "line", "strokeWidth": 3, "interpolate": "monotone"},
     "encoding": {
       "x": {"field": "x", "type": "quantitative", "scale": {"domain": [1250, 2100], "reverse": true, "nice": false, "zero": false},
             "axis": {"orient": "bottom", "values": [2100,2000,1900,1800,1700,1600,1500,1400,1300], "format": "d", "labelExpr": "datum.value % 200 == 0 ? datum.label : ''", "tickSize": 9, "labelPadding": 10, "labelFlush": false, "labelOverlap": false, "labelBound": false, "title": null}},
       "color": {"field": "e", "type": "nominal", "legend": null,
                 "scale": {"domain": ["0.25","0.30","0.35","0.40","0.45","0.50","0.55","0.60","0.65","0.70","0.75","0.80","0.85"],
                           "range": ["#000000","#FF0000","#0000FF","#FF00FF","#808000","#800080","#800000","#0F860F","#1F8080","#FF8000","#8B00FF","#8C8080","#E8A000"]}},
       "order": {"field": "x", "sort": "descending"}}},
    {"data": {"name": "abi"}, "mark": {"type": "rule", "strokeWidth": 1, "color": "#222"},
     "encoding": {"x2": {"field": "x2"}, "y2": {"field": "y2"}}},
    {"data": {"name": "sbi"}, "mark": {"type": "rule", "strokeWidth": 4, "color": "#000"},
     "encoding": {"y2": {"field": "y2"}}},
    {"data": {"name": "tbi"}, "mark": {"type": "text", "align": "left", "baseline": "alphabetic", "font": "Lato", "fontSize": 21, "color": "#111"},
     "encoding": {"text": {"field": "t"}}},
    {"data": {"name": "lbi"}, "mark": {"type": "text", "align": "left", "baseline": "alphabetic", "font": "Liberation Sans", "fontWeight": "bold", "fontSize": 25, "color": "#000"},
     "encoding": {"text": {"field": "t"}}},
    {"data": {"name": "hbi"}, "mark": {"type": "text", "align": "left", "baseline": "alphabetic", "font": "Liberation Sans", "fontWeight": "bold", "fontSize": 36, "color": "#000"},
     "encoding": {"text": {"field": "t"}}}
  ]
}
]
}
